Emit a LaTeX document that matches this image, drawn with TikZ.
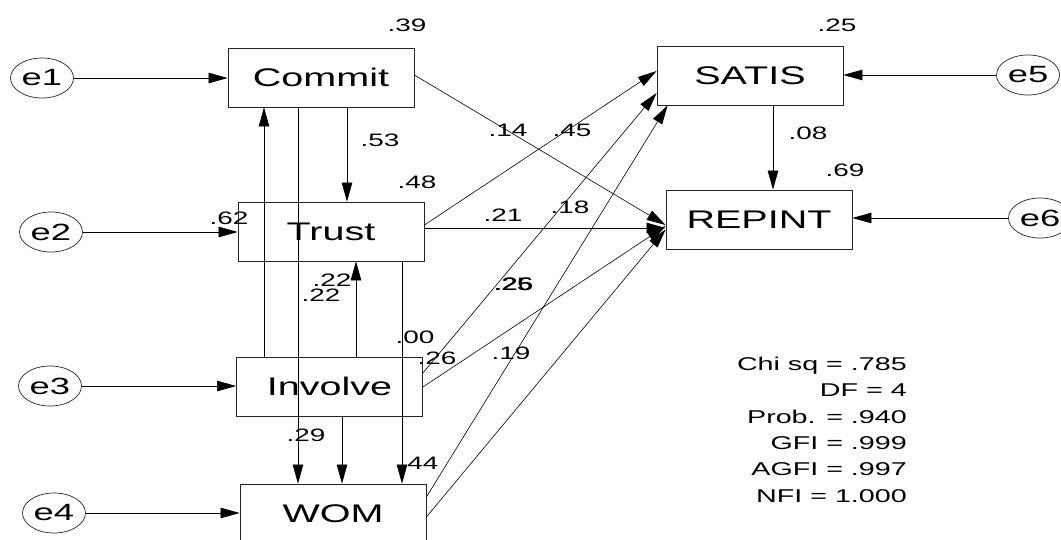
\documentclass[tikz,border=0pt]{standalone}
\usepackage{fontspec}
\setmainfont{Liberation Sans}[FakeStretch=1.55]
\usetikzlibrary{arrows.meta,calc,shapes.geometric}

\tikzset{
  var/.style={draw=black!85, line width=0.8pt, minimum width=186pt, minimum height=59pt,
              inner sep=0pt, font=\fontsize{25.5}{28}\selectfont},
  err/.style={draw=black!85, line width=0.7pt, ellipse, minimum width=63pt, minimum height=40pt,
              inner sep=0pt, font=\fontsize{23.5}{26}\selectfont},
  coef/.style={inner sep=0pt, font=\fontsize{18}{21}\selectfont},
  fit/.style={inner sep=0pt, anchor=base east, font=\fontsize{18.5}{21}\selectfont},
  arr/.style={-{Triangle[length=19pt,width=10.5pt]}, line width=0.6pt, draw=black},
}

\begin{document}
\begin{tikzpicture}[x=1pt,y=-1pt]
\clip (0,0) rectangle (1061,539);

% observed variables
\node[var] (Commit) at (321,77.5)  {Commit};
\node[var] (Trust)  at (331,231.5) {Trust};
\node[var] (Involve) at (329.5,386.5) {Involve};
\node[var] (WOM)    at (333,513.5) {WOM};
\node[var] (SATIS)  at (750,75.5)  {SATIS};
\node[var] (REPINT) at (759,219.5) {REPINT};

% error terms
\node[err] (e1) at (42,78)   {e1};
\node[err] (e2) at (51,232)  {e2};
\node[err] (e3) at (50,386)  {e3};
\node[err] (e4) at (54,513)  {e4};
\node[err] (e5) at (1028,75) {e5};
\node[err] (e6) at (1040,218) {e6};

% error paths
\draw[arr] (e1.east) -- (e1.east -| Commit.west);
\draw[arr] (e2.east) -- (e2.east -| Trust.west);
\draw[arr] (e3.east) -- (e3.east -| Involve.west);
\draw[arr] (e4.east) -- (e4.east -| WOM.west);
\draw[arr] (e5.west) -- (e5.west -| SATIS.east);
\draw[arr] (e6.west) -- (e6.west -| REPINT.east);

% vertical paths among the left-hand variables
\draw[arr] ($(Commit.south)+(26,0)$) coordinate (ct) -- (ct |- Trust.north);
\draw[arr] ($(Involve.north)+(-65.5,0)$) coordinate (ic) -- (ic |- Commit.south);
\draw[arr] ($(Involve.north)+(26.5,0)$) coordinate (it) -- (it |- Trust.south);
\draw[arr] ($(Commit.south)+(-23,0)$) coordinate (cw) -- (cw |- WOM.north);
\draw[arr] ($(Involve.south)+(12.5,0)$) coordinate (iw) -- (iw |- WOM.north);
\draw[arr] ($(Trust.south)+(71,0)$) coordinate (tw) -- (tw |- WOM.north);
\draw[arr] ($(SATIS.south)+(23,0)$) coordinate (sr) -- (sr |- REPINT.north);

% paths to the outcome variables
\draw[arr] ($(Commit.east)+(0,-2.5)$) -- ($(REPINT.west)+(0,5.5)$);
\draw[arr] ($(Trust.east)+(0,-6.5)$) -- ($(SATIS.west)+(0,-4.5)$);
\draw[arr] ($(Trust.east)+(0,-3.5)$) -- ($(REPINT.west)+(0,8.5)$);
\draw[arr] ($(Involve.east)+(0,-13.5)$) -- ($(SATIS.west)+(0,17.5)$);
\draw[arr] ($(Involve.east)+(0,0.5)$) -- ($(REPINT.west)+(0,6.5)$);
\draw[arr] ($(WOM.east)+(0,-16.5)$) -- ($(SATIS.south west)+(11,0)$);
\draw[arr] ($(WOM.east)+(0,3.5)$) -- ($(REPINT.west)+(0,10)$);

% squared multiple correlations
\node[coef] (r1) at (407,25)  {.39};
\node[coef] (r2) at (417,182) {.48};
\node[coef] (r3) at (837,25)  {.25};
\node[coef] (r4) at (845,170) {.69};

% path coefficients
\node[coef] (p1)  at (380,140) {.53};
\node[coef] (p2)  at (508,130) {.14};
\node[coef] (p3)  at (572,130) {.45};
\node[coef] (p4)  at (503,215) {.21};
\node[coef] (p5)  at (570,207) {.18};
\node[coef] (p6)  at (229,218) {.62};
\node[coef] (p7)  at (332,280) {.22};
\node[coef] (p8)  at (321,295) {.22};
\node[coef] (p9)  at (415,337) {.00};
\node[coef] (p10) at (437,358) {.26};
\node[coef] (p11) at (306,435) {.29};
\node[coef] (p12) at (419,463) {.44};
\node[coef] (p13) at (511,353) {.19};
\node[coef] (p14) at (513,284) {.25};
\node[coef] (p15) at (514,284) {.26};
\node[coef] (p16) at (808,133) {.08};

% fit statistics
\node[fit] (f1) at (907,370) {Chi sq = .785};
\node[fit] (f2) at (907,396) {DF = 4};
\node[fit] (f3) at (907,423) {Prob. = .940};
\node[fit] (f4) at (907,449) {GFI = .999};
\node[fit] (f5) at (907,475) {AGFI = .997};
\node[fit] (f6) at (907,502) {NFI = 1.000};
\end{tikzpicture}
\end{document}
